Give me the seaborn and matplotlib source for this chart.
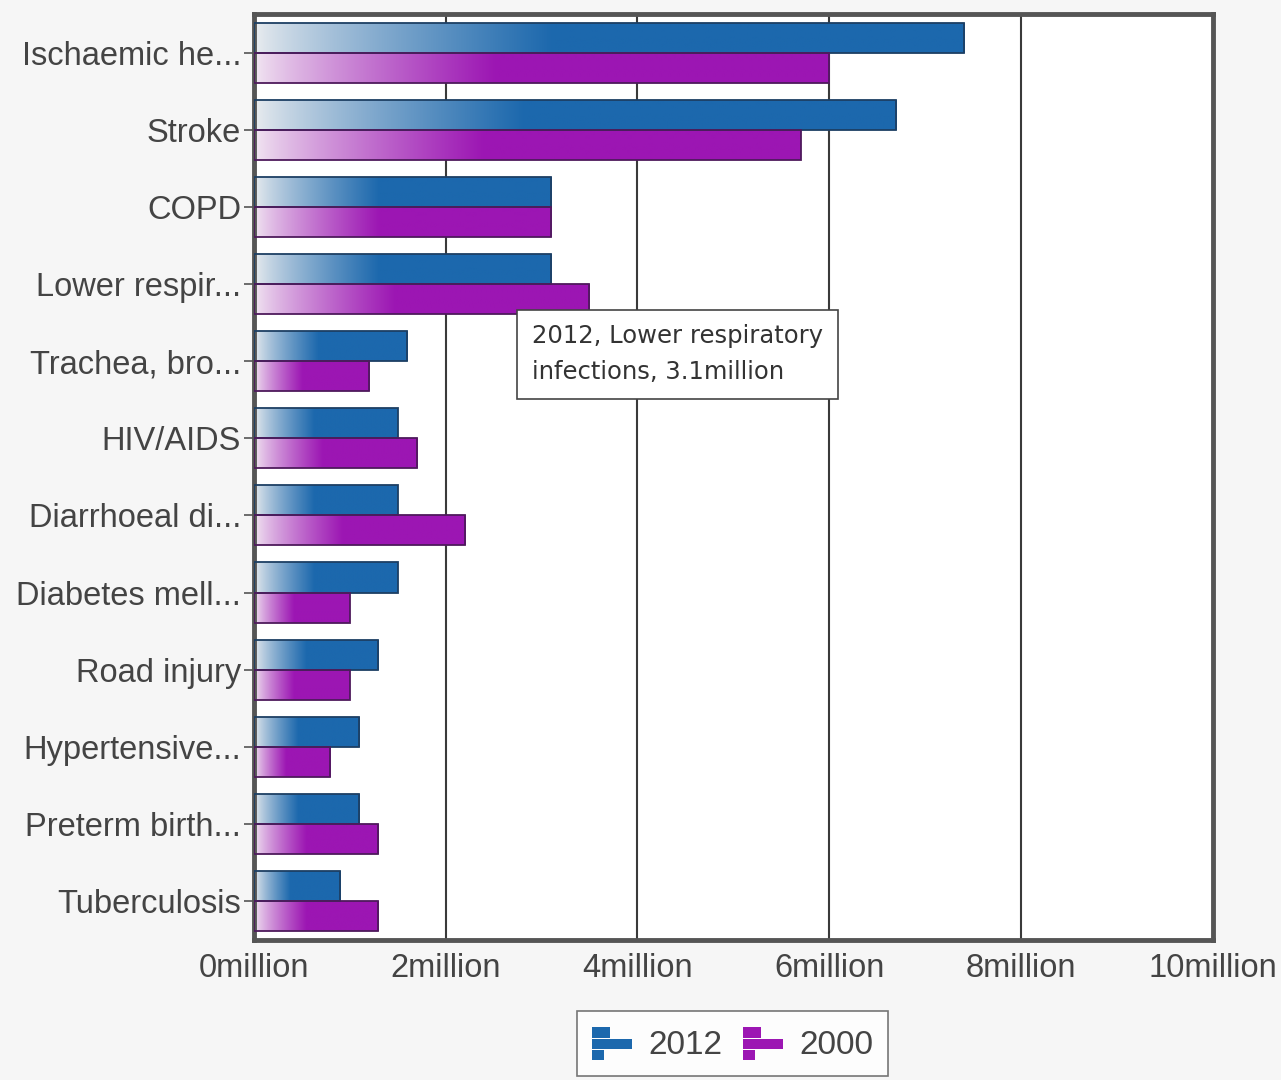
import numpy as np
import pandas as pd
import seaborn as sns
import matplotlib.pyplot as plt
from matplotlib.colors import to_rgb
from matplotlib.patches import Rectangle
from matplotlib.legend_handler import HandlerBase

causes = ["Ischaemic he...", "Stroke", "COPD", "Lower respir...", "Trachea, bro...",
          "HIV/AIDS", "Diarrhoeal di...", "Diabetes mell...", "Road injury",
          "Hypertensive...", "Preterm birth...", "Tuberculosis"]
deaths_2012 = [7.4, 6.7, 3.1, 3.1, 1.6, 1.5, 1.5, 1.5, 1.3, 1.1, 1.1, 0.9]
deaths_2000 = [6.0, 5.7, 3.1, 3.5, 1.2, 1.7, 2.2, 1.0, 1.0, 0.8, 1.3, 1.3]
years = ["2012", "2000"]
xticks = [0, 2, 4, 6, 8, 10]

blue = "#1c68ad"
purple = "#9c16b3"
colors = {"2012": blue, "2000": purple}
edges = {"2012": "#1d3f63", "2000": "#4e1a5c"}

df = pd.DataFrame({
    "cause": causes * 2,
    "year": ["2012"] * len(causes) + ["2000"] * len(causes),
    "deaths": deaths_2012 + deaths_2000,
})

sns.set_style("white")
plt.rcParams["font.family"] = ["Liberation Sans", "DejaVu Sans"]

fig = plt.figure(figsize=(12.81, 10.8), dpi=100, facecolor="#f6f6f6")
ax = fig.add_axes([0.198, 0.130, 0.749, 0.857])
ax.set_facecolor("white")

sns.barplot(data=df, y="cause", x="deaths", hue="year", hue_order=years,
            palette=colors, orient="h", width=0.78, ax=ax, saturation=1)
ax.legend_.remove()


def gradient_img(col):
    c = np.array(to_rgb(col))
    start = np.array([0.92, 0.93, 0.94]) if col == blue else np.array([0.95, 0.91, 0.95])
    t = np.linspace(0, 1, 256)
    f = np.clip(t / 0.42, 0, 1) ** 0.8
    rgb = start[None, :] * (1 - f[:, None]) + c[None, :] * f[:, None]
    return rgb[None, :, :]


imgs = {}
for yr in years:
    imgs[yr] = gradient_img(colors[yr])

for p in list(ax.patches):
    fc = p.get_facecolor()[:3]
    yr = "2012" if np.allclose(fc, to_rgb(blue), atol=0.02) else "2000"
    x0, y0, w, h = p.get_x(), p.get_y(), p.get_width(), p.get_height()
    im = ax.imshow(imgs[yr], extent=(x0, x0 + w, y0 + h, y0), aspect="auto",
                   interpolation="bilinear", zorder=2)
    im.set_clip_path(p)
    p.set_facecolor("none")
    p.set_edgecolor(edges[yr])
    p.set_linewidth(1.3)
    p.set_zorder(3)

ax.set_xlim(0, 10)
ax.set_ylim(len(causes) - 0.5, -0.5)
ax.set_xticks(xticks)
ax.set_xticklabels([f"{v}million" for v in xticks])
ax.xaxis.grid(True, color="#3a3a3a", linewidth=1.5, zorder=1)
ax.set_axisbelow(True)
ax.set_xlabel("")
ax.set_ylabel("")
for s in ax.spines.values():
    s.set_color("#555555")
    s.set_linewidth(3.5)
ax.tick_params(axis="both", labelsize=23.5, colors="#555555", labelcolor="#444444")
ax.tick_params(axis="y", length=7, width=1.2, pad=2, left=True)
ax.tick_params(axis="x", length=0, pad=10)

# hover tooltip
ax.text(2.9, 3.52, "2012, Lower respiratory\ninfections, 3.1million",
        fontsize=17.5, family="DejaVu Sans", color="#333333", va="top", ha="left",
        linespacing=1.65, zorder=6,
        bbox=dict(boxstyle="square,pad=0.6", facecolor="white", edgecolor="#444444",
                  linewidth=1.2))


class BarIcon(HandlerBase):
    def create_artists(self, legend, orig_handle, xdescent, ydescent, width, height,
                       fontsize, trans):
        col = orig_handle.get_facecolor()
        hh = height / 3.3
        lens = [0.45, 1.0, 0.3]
        arts = []
        for i, L in enumerate(lens):
            r = Rectangle((-xdescent, -ydescent + height - (i + 1) * hh * 1.1),
                          width * L, hh, facecolor=col, edgecolor="none", transform=trans)
            arts.append(r)
        return arts


handles = [Rectangle((0, 0), 1, 1, facecolor=colors[y]) for y in years]
leg = fig.legend(handles, years, loc="center", bbox_to_anchor=(0.572, 0.0335),
                 ncol=2, fontsize=24, frameon=True, fancybox=False,
                 handler_map={Rectangle: BarIcon()}, handlelength=1.2,
                 handleheight=1.2, handletextpad=0.5, columnspacing=0.6,
                 borderpad=0.45, borderaxespad=0.2)
leg.get_frame().set_edgecolor("#555555")
leg.get_frame().set_linewidth(1.2)
for t in leg.get_texts():
    t.set_color("#444444")

fig.savefig("out.png", dpi=100, facecolor=fig.get_facecolor())
